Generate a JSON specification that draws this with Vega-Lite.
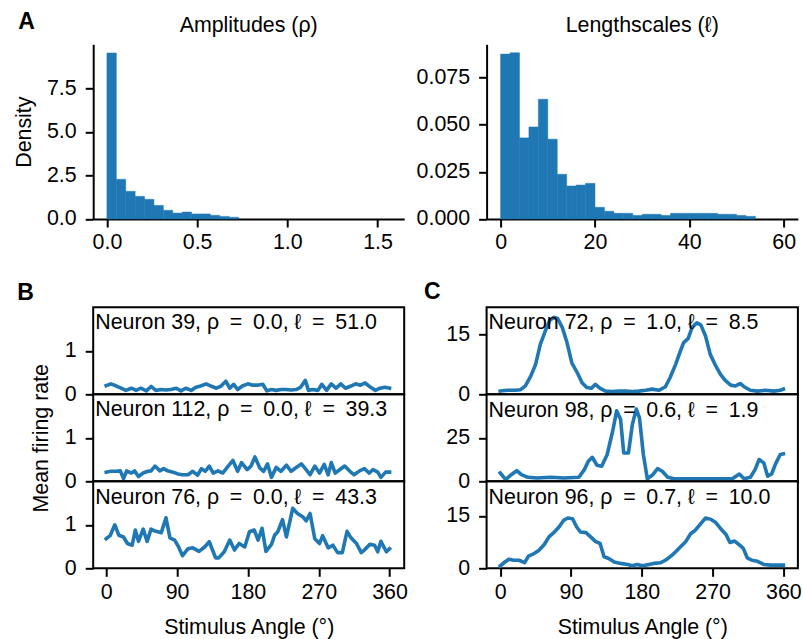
{
  "$schema": "https://vega.github.io/schema/vega-lite/v6.json",
  "padding": {"left": 13.2, "top": 11.3, "right": 5, "bottom": 5},
  "config": {
    "font": "Liberation Sans",
    "view": {"stroke": null},
    "axis": {"grid": false, "labelFontSize": 21.4, "titleFontSize": 21.4, "titleFontWeight": "normal", "labelColor": "#000", "titleColor": "#000", "tickColor": "#000", "domainColor": "#000", "tickWidth": 2, "domainWidth": 2, "tickSize": 8, "labelFlush": false, "labelOverlap": false},
    "axisX": {"labelPadding": 5, "titlePadding": 14},
    "axisY": {"labelPadding": 9, "titlePadding": 13},
    "title": {"fontSize": 21.4, "fontWeight": "normal", "color": "#000"},
    "line": {"color": "#1f77b4", "strokeWidth": 3.6, "strokeCap": "square", "strokeJoin": "round"},
    "bar": {"color": "#1f77b4", "stroke": "#1f77b4", "strokeWidth": 0.5}
  },
  "title": {"text": "A", "anchor": "start", "frame": "bounds", "offset": -19.7, "dx": 4.9, "fontWeight": "bold", "fontSize": 23},
  "datasets": {
    "amp": [
      {"lo": 0.0, "hi": 0.05217, "density": 9.53},
      {"lo": 0.05217, "hi": 0.10433, "density": 2.28},
      {"lo": 0.10433, "hi": 0.1565, "density": 1.59},
      {"lo": 0.1565, "hi": 0.20867, "density": 1.30},
      {"lo": 0.20867, "hi": 0.26083, "density": 1.13},
      {"lo": 0.26083, "hi": 0.313, "density": 0.78},
      {"lo": 0.313, "hi": 0.36517, "density": 0.50},
      {"lo": 0.36517, "hi": 0.41733, "density": 0.34},
      {"lo": 0.41733, "hi": 0.4695, "density": 0.40},
      {"lo": 0.4695, "hi": 0.52167, "density": 0.29},
      {"lo": 0.52167, "hi": 0.57383, "density": 0.29},
      {"lo": 0.57383, "hi": 0.626, "density": 0.21},
      {"lo": 0.626, "hi": 0.67817, "density": 0.15},
      {"lo": 0.67817, "hi": 0.73033, "density": 0.10}
    ],
    "len": [
      {"lo": 0, "hi": 2, "density": 0.0874},
      {"lo": 2, "hi": 4, "density": 0.0881},
      {"lo": 4, "hi": 6, "density": 0.0430},
      {"lo": 6, "hi": 8, "density": 0.0488},
      {"lo": 8, "hi": 10, "density": 0.0635},
      {"lo": 10, "hi": 12, "density": 0.0423},
      {"lo": 12, "hi": 14, "density": 0.0237},
      {"lo": 14, "hi": 16, "density": 0.0175},
      {"lo": 16, "hi": 18, "density": 0.0180},
      {"lo": 18, "hi": 20, "density": 0.0189},
      {"lo": 20, "hi": 22, "density": 0.0062},
      {"lo": 22, "hi": 24, "density": 0.0041},
      {"lo": 24, "hi": 26, "density": 0.0030},
      {"lo": 26, "hi": 28, "density": 0.0030},
      {"lo": 28, "hi": 30, "density": 0.0019},
      {"lo": 30, "hi": 32, "density": 0.0025},
      {"lo": 32, "hi": 34, "density": 0.0025},
      {"lo": 34, "hi": 36, "density": 0.0019},
      {"lo": 36, "hi": 38, "density": 0.0030},
      {"lo": 38, "hi": 40, "density": 0.0030},
      {"lo": 40, "hi": 42, "density": 0.0030},
      {"lo": 42, "hi": 44, "density": 0.0030},
      {"lo": 44, "hi": 46, "density": 0.0030},
      {"lo": 46, "hi": 48, "density": 0.0025},
      {"lo": 48, "hi": 50, "density": 0.0025},
      {"lo": 50, "hi": 52, "density": 0.0019},
      {"lo": 52, "hi": 54, "density": 0.0014}
    ],
    "n39": [
      {"angle":0,"rate":0.20},{"angle":6,"rate":0.24},{"angle":13,"rate":0.19},{"angle":19,"rate":0.14},{"angle":25,"rate":0.09},{"angle":32,"rate":0.14},{"angle":38,"rate":0.09},{"angle":44,"rate":0.14},{"angle":51,"rate":0.08},{"angle":57,"rate":0.18},{"angle":63,"rate":0.09},{"angle":70,"rate":0.11},{"angle":76,"rate":0.10},{"angle":82,"rate":0.11},{"angle":89,"rate":0.14},{"angle":95,"rate":0.08},{"angle":101,"rate":0.14},{"angle":108,"rate":0.09},{"angle":114,"rate":0.16},{"angle":120,"rate":0.19},{"angle":127,"rate":0.24},{"angle":133,"rate":0.19},{"angle":140,"rate":0.14},{"angle":146,"rate":0.19},{"angle":152,"rate":0.30},{"angle":157,"rate":0.14},{"angle":162,"rate":0.23},{"angle":167,"rate":0.11},{"angle":173,"rate":0.19},{"angle":180,"rate":0.24},{"angle":186,"rate":0.21},{"angle":192,"rate":0.21},{"angle":199,"rate":0.23},{"angle":204,"rate":0.08},{"angle":210,"rate":0.11},{"angle":216,"rate":0.09},{"angle":222,"rate":0.11},{"angle":228,"rate":0.11},{"angle":235,"rate":0.10},{"angle":241,"rate":0.11},{"angle":247,"rate":0.16},{"angle":253,"rate":0.32},{"angle":257,"rate":0.09},{"angle":262,"rate":0.11},{"angle":269,"rate":0.09},{"angle":274,"rate":0.23},{"angle":280,"rate":0.09},{"angle":286,"rate":0.24},{"angle":292,"rate":0.14},{"angle":298,"rate":0.24},{"angle":304,"rate":0.14},{"angle":311,"rate":0.19},{"angle":317,"rate":0.24},{"angle":323,"rate":0.21},{"angle":329,"rate":0.26},{"angle":336,"rate":0.16},{"angle":342,"rate":0.09},{"angle":348,"rate":0.14},{"angle":354,"rate":0.16},{"angle":360,"rate":0.14}
    ],
    "n112": [
      {"angle":0,"rate":0.21},{"angle":6,"rate":0.23},{"angle":13,"rate":0.23},{"angle":18,"rate":0.24},{"angle":22,"rate":0.06},{"angle":26,"rate":0.24},{"angle":32,"rate":0.19},{"angle":36,"rate":0.24},{"angle":41,"rate":0.11},{"angle":47,"rate":0.19},{"angle":53,"rate":0.23},{"angle":57,"rate":0.24},{"angle":62,"rate":0.35},{"angle":68,"rate":0.24},{"angle":73,"rate":0.29},{"angle":78,"rate":0.24},{"angle":85,"rate":0.21},{"angle":91,"rate":0.17},{"angle":97,"rate":0.15},{"angle":104,"rate":0.15},{"angle":110,"rate":0.23},{"angle":116,"rate":0.14},{"angle":121,"rate":0.29},{"angle":126,"rate":0.23},{"angle":131,"rate":0.35},{"angle":136,"rate":0.19},{"angle":142,"rate":0.24},{"angle":148,"rate":0.19},{"angle":155,"rate":0.35},{"angle":161,"rate":0.48},{"angle":167,"rate":0.23},{"angle":172,"rate":0.43},{"angle":179,"rate":0.27},{"angle":184,"rate":0.35},{"angle":189,"rate":0.56},{"angle":195,"rate":0.31},{"angle":200,"rate":0.23},{"angle":205,"rate":0.40},{"angle":210,"rate":0.09},{"angle":216,"rate":0.32},{"angle":222,"rate":0.23},{"angle":229,"rate":0.37},{"angle":235,"rate":0.23},{"angle":241,"rate":0.31},{"angle":248,"rate":0.40},{"angle":254,"rate":0.27},{"angle":259,"rate":0.15},{"angle":265,"rate":0.35},{"angle":271,"rate":0.19},{"angle":277,"rate":0.39},{"angle":282,"rate":0.15},{"angle":286,"rate":0.43},{"angle":291,"rate":0.19},{"angle":297,"rate":0.27},{"angle":303,"rate":0.35},{"angle":309,"rate":0.24},{"angle":315,"rate":0.15},{"angle":322,"rate":0.24},{"angle":328,"rate":0.29},{"angle":334,"rate":0.19},{"angle":339,"rate":0.27},{"angle":345,"rate":0.21},{"angle":349,"rate":0.09},{"angle":355,"rate":0.21},{"angle":360,"rate":0.21}
    ],
    "n76": [
      {"angle":0,"rate":0.68},{"angle":5,"rate":0.75},{"angle":11,"rate":1.0},{"angle":16,"rate":0.76},{"angle":22,"rate":0.72},{"angle":27,"rate":0.57},{"angle":33,"rate":0.53},{"angle":37,"rate":0.88},{"angle":41,"rate":0.62},{"angle":47,"rate":0.90},{"angle":52,"rate":0.62},{"angle":57,"rate":0.90},{"angle":63,"rate":0.85},{"angle":70,"rate":0.82},{"angle":76,"rate":1.16},{"angle":81,"rate":0.70},{"angle":87,"rate":0.65},{"angle":92,"rate":0.49},{"angle":97,"rate":0.29},{"angle":104,"rate":0.45},{"angle":110,"rate":0.47},{"angle":118,"rate":0.39},{"angle":125,"rate":0.49},{"angle":131,"rate":0.61},{"angle":139,"rate":0.24},{"angle":143,"rate":0.24},{"angle":150,"rate":0.38},{"angle":157,"rate":0.65},{"angle":163,"rate":0.42},{"angle":169,"rate":0.57},{"angle":176,"rate":0.49},{"angle":182,"rate":0.84},{"angle":188,"rate":0.88},{"angle":193,"rate":0.65},{"angle":198,"rate":0.92},{"angle":203,"rate":0.39},{"angle":210,"rate":0.55},{"angle":214,"rate":0.76},{"angle":218,"rate":0.84},{"angle":224,"rate":1.12},{"angle":229,"rate":0.72},{"angle":237,"rate":1.38},{"angle":243,"rate":1.26},{"angle":250,"rate":1.18},{"angle":254,"rate":1.09},{"angle":259,"rate":1.26},{"angle":265,"rate":0.68},{"angle":271,"rate":0.57},{"angle":275,"rate":0.75},{"angle":282,"rate":0.47},{"angle":288,"rate":0.53},{"angle":294,"rate":0.36},{"angle":300,"rate":0.36},{"angle":306,"rate":0.85},{"angle":311,"rate":0.70},{"angle":318,"rate":0.57},{"angle":324,"rate":0.36},{"angle":328,"rate":0.42},{"angle":335,"rate":0.55},{"angle":341,"rate":0.53},{"angle":345,"rate":0.38},{"angle":349,"rate":0.62},{"angle":356,"rate":0.38},{"angle":360,"rate":0.45}
    ],
    "n72": [
      {"angle":0,"rate":0.8},{"angle":9,"rate":1.0},{"angle":19,"rate":1.0},{"angle":26,"rate":1.15},{"angle":32,"rate":2.1},{"angle":39,"rate":4.6},{"angle":45,"rate":7.5},{"angle":51,"rate":12.5},{"angle":58,"rate":16.2},{"angle":63,"rate":18.5},{"angle":68,"rate":19.3},{"angle":73,"rate":19.0},{"angle":79,"rate":16.7},{"angle":85,"rate":12.9},{"angle":91,"rate":7.9},{"angle":98,"rate":5.4},{"angle":104,"rate":2.9},{"angle":110,"rate":1.7},{"angle":116,"rate":1.5},{"angle":121,"rate":2.5},{"angle":127,"rate":1.5},{"angle":134,"rate":0.8},{"angle":142,"rate":0.7},{"angle":151,"rate":0.8},{"angle":159,"rate":0.8},{"angle":168,"rate":0.7},{"angle":176,"rate":0.8},{"angle":185,"rate":1.0},{"angle":193,"rate":1.3},{"angle":202,"rate":1.0},{"angle":210,"rate":1.9},{"angle":216,"rate":4.2},{"angle":223,"rate":7.5},{"angle":229,"rate":10.8},{"angle":233,"rate":12.9},{"angle":239,"rate":14.0},{"angle":244,"rate":16.8},{"angle":250,"rate":17.9},{"angle":255,"rate":17.4},{"angle":261,"rate":14.6},{"angle":267,"rate":10.0},{"angle":274,"rate":7.1},{"angle":280,"rate":5.0},{"angle":286,"rate":3.5},{"angle":293,"rate":2.3},{"angle":299,"rate":2.1},{"angle":305,"rate":2.7},{"angle":310,"rate":1.9},{"angle":318,"rate":1.0},{"angle":327,"rate":0.8},{"angle":337,"rate":1.0},{"angle":348,"rate":0.8},{"angle":356,"rate":1.0},{"angle":360,"rate":1.3}
    ],
    "n98": [
      {"angle":0,"rate":4.8},{"angle":7,"rate":1.0},{"angle":14,"rate":3.8},{"angle":21,"rate":6.1},{"angle":27,"rate":3.8},{"angle":35,"rate":2.3},{"angle":47,"rate":1.9},{"angle":64,"rate":2.3},{"angle":81,"rate":1.9},{"angle":100,"rate":2.3},{"angle":107,"rate":6.7},{"angle":112,"rate":11.5},{"angle":117,"rate":13.8},{"angle":123,"rate":9.2},{"angle":129,"rate":8.7},{"angle":136,"rate":15.4},{"angle":143,"rate":28.9},{"angle":148,"rate":40.5},{"angle":153,"rate":35.6},{"angle":157,"rate":16.3},{"angle":163,"rate":16.3},{"angle":168,"rate":32.7},{"angle":173,"rate":41.5},{"angle":177,"rate":36.5},{"angle":182,"rate":15.4},{"angle":187,"rate":1.5},{"angle":194,"rate":3.8},{"angle":200,"rate":7.3},{"angle":206,"rate":5.8},{"angle":213,"rate":2.3},{"angle":221,"rate":1.5},{"angle":238,"rate":1.5},{"angle":259,"rate":1.5},{"angle":280,"rate":1.5},{"angle":295,"rate":1.5},{"angle":304,"rate":4.2},{"angle":310,"rate":1.5},{"angle":318,"rate":2.3},{"angle":324,"rate":6.7},{"angle":329,"rate":12.5},{"angle":335,"rate":10.6},{"angle":340,"rate":2.9},{"angle":345,"rate":4.2},{"angle":350,"rate":10.0},{"angle":356,"rate":15.4},{"angle":360,"rate":15.8}
    ],
    "n96": [
      {"angle":0,"rate":0.7},{"angle":6,"rate":1.8},{"angle":11,"rate":2.6},{"angle":17,"rate":2.3},{"angle":24,"rate":2.3},{"angle":31,"rate":1.6},{"angle":36,"rate":3.5},{"angle":43,"rate":4.2},{"angle":49,"rate":5.1},{"angle":56,"rate":6.8},{"angle":62,"rate":9.0},{"angle":68,"rate":10.2},{"angle":75,"rate":11.9},{"angle":81,"rate":13.8},{"angle":86,"rate":14.4},{"angle":92,"rate":14.2},{"angle":97,"rate":11.9},{"angle":102,"rate":10.4},{"angle":109,"rate":10.2},{"angle":115,"rate":9.0},{"angle":121,"rate":7.7},{"angle":127,"rate":7.1},{"angle":132,"rate":3.3},{"angle":138,"rate":2.8},{"angle":145,"rate":1.8},{"angle":153,"rate":1.4},{"angle":162,"rate":1.1},{"angle":168,"rate":0.7},{"angle":174,"rate":1.1},{"angle":181,"rate":0.7},{"angle":189,"rate":1.1},{"angle":195,"rate":1.4},{"angle":204,"rate":1.6},{"angle":210,"rate":2.3},{"angle":217,"rate":3.5},{"angle":223,"rate":4.7},{"angle":229,"rate":6.1},{"angle":236,"rate":7.7},{"angle":242,"rate":9.9},{"angle":248,"rate":10.9},{"angle":255,"rate":12.8},{"angle":261,"rate":14.4},{"angle":268,"rate":14.0},{"angle":274,"rate":13.1},{"angle":280,"rate":11.4},{"angle":287,"rate":9.7},{"angle":292,"rate":7.4},{"angle":298,"rate":7.8},{"angle":304,"rate":6.7},{"angle":309,"rate":5.7},{"angle":314,"rate":3.0},{"angle":320,"rate":2.3},{"angle":327,"rate":2.0},{"angle":335,"rate":1.1},{"angle":344,"rate":0.9},{"angle":352,"rate":0.9},{"angle":360,"rate":0.9}
    ]
  },
  "columns": 2,
  "bounds": "flush",
  "spacing": {"row": 0, "column": 82.4},
  "concat": [
    {
      "width": 311, "height": 174.7,
      "title": {"text": "Amplitudes (ρ)", "anchor": "middle", "frame": "group", "offset": 8.3},
      "data": {"name": "amp"},
      "mark": {"type": "bar", "orient": "vertical"},
      "encoding": {
        "x": {"field": "lo", "type": "quantitative", "scale": {"domain": [-0.076, 1.648], "nice": false, "zero": false, "padding": 0}, "axis": {"values": [0, 0.5, 1, 1.5], "format": ".1f", "title": null}},
        "x2": {"field": "hi"},
        "y": {"field": "density", "type": "quantitative", "scale": {"domain": [0, 10.03], "nice": false}, "axis": {"values": [0, 2.5, 5, 7.5], "format": ".1f", "title": "Density", "titlePadding": 12}},
        "y2": {"datum": 0}
      }
    },
    {
      "width": 311.3, "height": 174.7,
      "title": {"text": "Lengthscales (ℓ)", "anchor": "middle", "frame": "group", "offset": 8.3},
      "data": {"name": "len"},
      "mark": {"type": "bar", "orient": "vertical"},
      "encoding": {
        "x": {"field": "lo", "type": "quantitative", "scale": {"domain": [-2.97, 63.0], "nice": false, "zero": false, "padding": 0}, "axis": {"values": [0, 20, 40, 60], "format": "d", "title": null}},
        "x2": {"field": "hi"},
        "y": {"field": "density", "type": "quantitative", "scale": {"domain": [0, 0.0926], "nice": false}, "axis": {"values": [0, 0.025, 0.05, 0.075], "format": ".3f", "title": null}},
        "y2": {"datum": 0}
      }
    },
    {"width": 311, "height": 87.3, "data": {"values": []}, "mark": "point", "encoding": {}},
    {"width": 311.3, "height": 87.3, "data": {"values": []}, "mark": "point", "encoding": {}},
    {
      "width": 311, "height": 87,
      "view": {"stroke": "#000", "strokeWidth": 2},
      "title": {"text": "Neuron 39, ρ\u2002=\u20020.0, ℓ\u2002=\u200251.0", "anchor": "start", "frame": "group", "offset": -51.4, "dx": 2},
      "data": {"name": "n39"},
      "mark": {"type": "line"},
      "encoding": {
        "x": {"field": "angle", "type": "quantitative", "scale": {"domain": [-16.5, 378.6], "nice": false, "zero": false}, "axis": null},
        "y": {"field": "rate", "type": "quantitative", "scale": {"domain": [0, 2], "nice": false}, "axis": {"values": [0, 1], "domain": false, "title": "B", "titleAngle": 0, "titleFontWeight": "bold", "titleFontSize": 23, "titleAlign": "left", "titleBaseline": "alphabetic", "titleX": -76.5, "titleY": -7.7}}
      }
    },
    {
      "width": 311.3, "height": 87,
      "view": {"stroke": "#000", "strokeWidth": 2},
      "title": {"text": "Neuron 72, ρ\u2002=\u20021.0, ℓ\u2002=\u20028.5", "anchor": "start", "frame": "group", "offset": -52.7, "dx": 2},
      "data": {"name": "n72"},
      "mark": {"type": "line"},
      "encoding": {
        "x": {"field": "angle", "type": "quantitative", "scale": {"domain": [-17.3, 378.4], "nice": false, "zero": false}, "axis": null},
        "y": {"field": "rate", "type": "quantitative", "scale": {"domain": [0, 21.8], "nice": false}, "axis": {"values": [0, 15], "domain": false, "title": "C", "titleAngle": 0, "titleFontWeight": "bold", "titleFontSize": 23, "titleAlign": "left", "titleBaseline": "alphabetic", "titleX": -63, "titleY": -9}}
      }
    },
    {
      "width": 311, "height": 87,
      "view": {"stroke": "#000", "strokeWidth": 2},
      "title": {"text": "Neuron 112, ρ\u2002=\u20020.0, ℓ\u2002=\u200239.3", "anchor": "start", "frame": "group", "offset": -56.5, "dx": 2},
      "data": {"name": "n112"},
      "mark": {"type": "line"},
      "encoding": {
        "x": {"field": "angle", "type": "quantitative", "scale": {"domain": [-16.5, 378.6], "nice": false, "zero": false}, "axis": null},
        "y": {"field": "rate", "type": "quantitative", "scale": {"domain": [0, 2], "nice": false}, "axis": {"values": [0, 1], "domain": false, "title": "Mean firing rate"}}
      }
    },
    {
      "width": 311.3, "height": 87,
      "view": {"stroke": "#000", "strokeWidth": 2},
      "title": {"text": "Neuron 98, ρ\u2002=\u20020.6, ℓ\u2002=\u20021.9", "anchor": "start", "frame": "group", "offset": -26.7, "dx": 2},
      "data": {"name": "n98"},
      "mark": {"type": "line"},
      "encoding": {
        "x": {"field": "angle", "type": "quantitative", "scale": {"domain": [-17.3, 378.4], "nice": false, "zero": false}, "axis": null},
        "y": {"field": "rate", "type": "quantitative", "scale": {"domain": [0, 50], "nice": false}, "axis": {"values": [0, 25], "domain": false, "title": null}}
      }
    },
    {
      "width": 311, "height": 87,
      "view": {"stroke": "#000", "strokeWidth": 2},
      "title": {"text": "Neuron 76, ρ\u2002=\u20020.0, ℓ\u2002=\u200243.3", "anchor": "start", "frame": "group", "offset": -26.7, "dx": 2},
      "data": {"name": "n76"},
      "mark": {"type": "line"},
      "encoding": {
        "x": {"field": "angle", "type": "quantitative", "scale": {"domain": [-16.5, 378.6], "nice": false, "zero": false}, "axis": {"values": [0, 90, 180, 270, 360], "domain": false, "title": "Stimulus Angle (°)"}},
        "y": {"field": "rate", "type": "quantitative", "scale": {"domain": [0, 2], "nice": false}, "axis": {"values": [0, 1], "domain": false, "title": null}}
      }
    },
    {
      "width": 311.3, "height": 87,
      "view": {"stroke": "#000", "strokeWidth": 2},
      "title": {"text": "Neuron 96, ρ\u2002=\u20020.7, ℓ\u2002=\u200210.0", "anchor": "start", "frame": "group", "offset": -26.7, "dx": 2},
      "data": {"name": "n96"},
      "mark": {"type": "line"},
      "encoding": {
        "x": {"field": "angle", "type": "quantitative", "scale": {"domain": [-17.3, 378.4], "nice": false, "zero": false}, "axis": {"values": [0, 90, 180, 270, 360], "domain": false, "title": "Stimulus Angle (°)"}},
        "y": {"field": "rate", "type": "quantitative", "scale": {"domain": [0, 24.9], "nice": false}, "axis": {"values": [0, 15], "domain": false, "title": null}}
      }
    }
  ]
}
